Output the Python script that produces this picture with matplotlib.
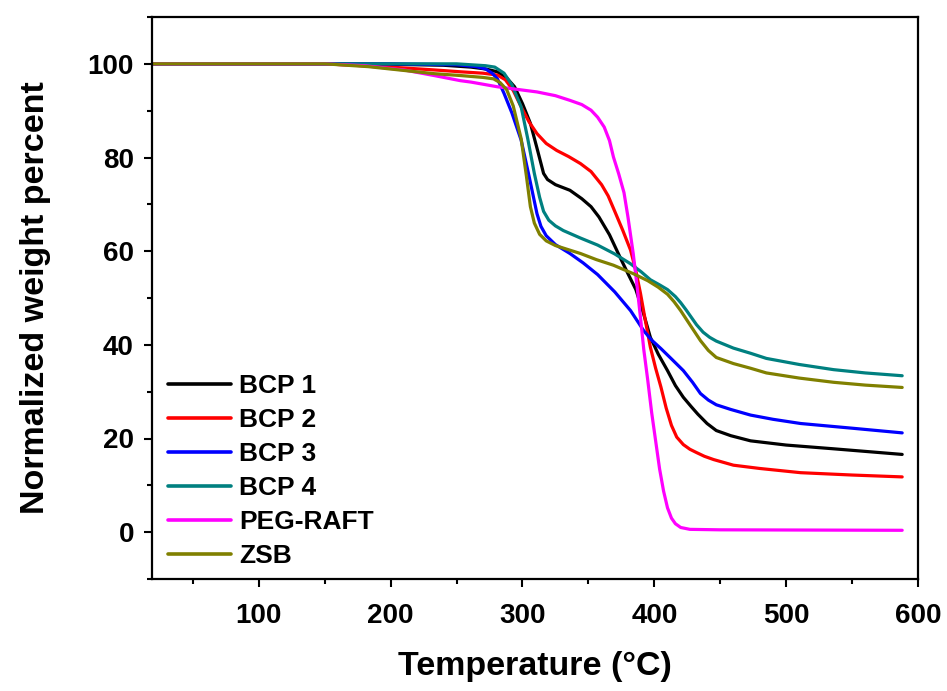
import matplotlib
matplotlib.use("Agg")
import matplotlib.pyplot as plt
from matplotlib.ticker import MultipleLocator

plt.rcParams['font.family'] = ['Liberation Sans', 'DejaVu Sans']
plt.rcParams['font.weight'] = 'bold'

# ---- data ----
bcp1_T = [20, 150, 200, 240, 261, 272, 281, 288, 294, 300, 306, 311, 316, 319, 325, 336, 345, 352, 358, 366, 374, 380, 386, 392, 397, 403, 410, 416, 422, 428, 433, 440, 447, 458, 473, 500, 536, 588]
bcp1_W = [100, 100, 99.9, 99.7, 99.3, 98.9, 98.3, 97.0, 95.1, 91.5, 87.3, 82.0, 76.6, 75.3, 74.2, 73.0, 71.2, 69.5, 67.3, 63.5, 58.7, 55.2, 51.8, 46.5, 41.6, 38.0, 34.5, 31.3, 28.8, 26.8, 25.2, 23.2, 21.7, 20.6, 19.5, 18.6, 17.8, 16.6]

bcp2_T = [20, 150, 200, 233, 253, 270, 281, 287, 293, 299, 305, 311, 318, 326, 335, 344, 352, 360, 365, 370, 376, 382, 386, 389.5, 393, 397, 401, 405, 409, 413, 417, 422, 427, 432, 438, 445, 460, 480, 511, 550, 588]
bcp2_W = [100, 100, 99.3, 98.7, 98.3, 98.0, 97.6, 96.6, 94.3, 90.8, 87.6, 85.1, 83.0, 81.5, 80.2, 78.7, 77.0, 74.2, 71.8, 68.5, 64.5, 60.2, 55.8, 51.0, 45.5, 39.5, 35.0, 31.0, 26.5, 22.8, 20.3, 18.7, 17.7, 17.0, 16.2, 15.5, 14.3, 13.6, 12.7, 12.2, 11.8]

bcp3_T = [20, 200, 250, 265, 272, 277, 281, 286, 292, 299, 305, 311, 314, 318, 325, 336, 346, 357, 370, 382, 392, 398, 405, 413, 422, 429, 435, 441, 447, 458, 473, 490, 511, 550, 588]
bcp3_W = [100, 100, 99.8, 99.4, 98.9, 98.0, 96.8, 93.7, 89.5, 83.7, 76.0, 68.0, 65.3, 63.3, 61.4, 59.5, 57.5, 55.0, 51.3, 47.3, 43.0, 41.0, 39.2, 37.0, 34.5, 32.0, 29.6, 28.2, 27.2, 26.2, 25.0, 24.1, 23.2, 22.2, 21.2]

bcp4_T = [20, 250, 261, 272, 279, 286, 292, 299, 304, 309, 313, 316, 320, 325, 331, 344, 357, 370, 382, 390, 397, 404, 410, 416, 420, 424, 428, 432, 437, 442, 447, 460, 473, 485, 510, 536, 560, 588]
bcp4_W = [100, 100, 99.8, 99.6, 99.3, 98.0, 95.5, 90.8, 84.0, 76.6, 71.5, 68.5, 66.6, 65.4, 64.4, 62.8, 61.3, 59.4, 57.3, 55.6, 53.9, 52.8, 51.8, 50.3, 49.0, 47.5, 45.9, 44.3, 42.7, 41.6, 40.8, 39.3, 38.2, 37.1, 35.8, 34.7, 34.0, 33.4]

peg_T = [20, 150, 180, 210, 233, 253, 261, 281, 300, 311, 325, 336, 345, 352, 357, 362, 366, 369, 373, 377, 380, 384, 387, 390, 392, 395, 398, 401, 404, 407, 410, 413, 416, 420, 427, 450, 588]
peg_W = [100, 100, 99.6, 98.7, 97.5, 96.4, 96.1, 95.1, 94.4, 94.0, 93.2, 92.2, 91.3, 90.1, 88.6, 86.5, 83.6, 80.1, 76.5, 72.5, 67.3, 59.5, 52.3, 44.5, 39.0, 32.5, 25.5, 19.5, 13.5, 8.8, 5.2, 3.0, 1.8, 1.0, 0.6, 0.5, 0.4]

zsb_T = [20, 150, 183, 203, 233, 253, 270, 278, 283, 288, 293, 299, 303, 306, 309, 313, 318, 325, 335, 344, 356, 369, 384, 395, 403, 410, 415, 420, 427, 435, 441, 447, 460, 473, 485, 510, 536, 560, 588]
zsb_W = [100, 100, 99.4, 98.8, 97.9, 97.5, 97.1, 96.8, 96.0, 94.5, 91.0, 84.0, 76.0, 69.5, 66.0, 63.6, 62.2, 61.2, 60.3, 59.5, 58.2, 57.0, 55.2, 53.7, 52.3, 50.8, 49.2, 47.3, 44.3, 40.9, 38.8, 37.3, 36.0, 35.0, 34.0, 32.9, 32.0, 31.4, 30.9]

series = [
    ("BCP 1", bcp1_T, bcp1_W, "#000000"),
    ("BCP 2", bcp2_T, bcp2_W, "#FF0000"),
    ("BCP 3", bcp3_T, bcp3_W, "#0000FF"),
    ("BCP 4", bcp4_T, bcp4_W, "#008080"),
    ("PEG-RAFT", peg_T, peg_W, "#FF00FF"),
    ("ZSB", zsb_T, zsb_W, "#808000"),
]

x_ticks = [100, 200, 300, 400, 500, 600]
y_ticks = [0, 20, 40, 60, 80, 100]

fig = plt.figure(figsize=(9.47, 6.91), dpi=100)
ax = fig.add_axes([152/947, 1 - 579/691, (918-152)/947, (579-17)/691])

for name, T, W, c in series:
    ax.plot(T, W, color=c, lw=2.3, label=name, solid_joinstyle='round', solid_capstyle='round')

ax.set_xlim(19, 600)
ax.set_ylim(-10, 110)
ax.set_xticks(x_ticks)
ax.set_yticks(y_ticks)
ax.xaxis.set_minor_locator(MultipleLocator(50))
ax.yaxis.set_minor_locator(MultipleLocator(10))
ax.tick_params(which='major', direction='out', length=6, width=1.5, labelsize=20)
ax.tick_params(axis='x', which='major', pad=11)
ax.tick_params(axis='y', which='major', pad=7)
ax.tick_params(which='minor', direction='out', length=3.5, width=1.5)
for lab in ax.get_xticklabels() + ax.get_yticklabels():
    lab.set_fontweight('bold')
for s in ax.spines.values():
    s.set_linewidth(1.6)

ax.set_xlabel("Temperature (°C)", fontsize=24.5, fontweight='bold', labelpad=16)
ax.set_ylabel("Normalized weight percent", fontsize=24.5, fontweight='bold', labelpad=26)

leg = ax.legend(loc='lower left', frameon=False, fontsize=19, handlelength=2.4,
                handletextpad=0.3, labelspacing=0.38, borderaxespad=0.0, borderpad=0.4,
                bbox_to_anchor=(5/766, 0.0))
for t in leg.get_texts():
    t.set_fontweight('bold')
for h in leg.get_lines():
    h.set_linewidth(2.6)

fig.savefig("out.png", dpi=100)
